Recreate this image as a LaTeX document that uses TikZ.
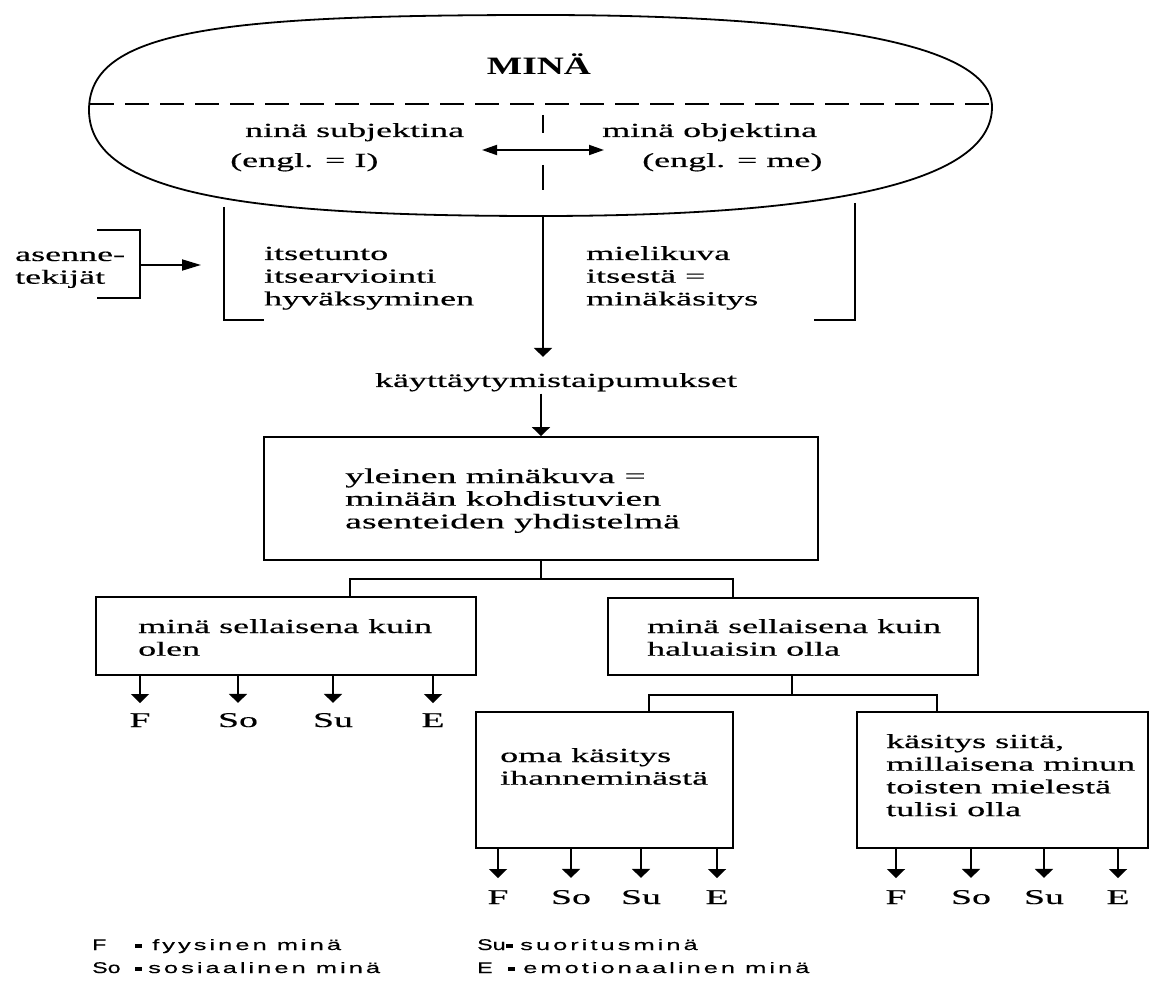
\documentclass[tikz,border=0pt]{standalone}
\usepackage{fontspec}
\setmainfont{Liberation Serif}[FakeStretch=1.8,FakeBold=0.4]
\newfontfamily\legfont{Liberation Sans}[FakeStretch=1.7,LetterSpace=20,FakeBold=0.3]
\newfontfamily\legabfont{Liberation Sans}[FakeStretch=1.5,FakeBold=0.3]
\newfontfamily\minafont{Liberation Serif}[FakeStretch=1.5]
\usetikzlibrary{arrows.meta,calc}
\newcommand{\mlines}[1]{\begin{tabular}[t]{@{}l@{}}#1\end{tabular}}
\begin{document}
\begin{tikzpicture}[x=1pt,y=-1pt,
  ln/.style={line width=1.8pt},
  arr/.style={ln,-{Triangle[width=18pt,length=9pt]}},
  harr/.style={ln,-{Triangle[width=11pt,length=19pt]}},
  darr/.style={ln,{Triangle[width=10pt,length=15pt]}-{Triangle[width=10pt,length=15pt]}},
  txt/.style={inner sep=0pt,font=\fontsize{20}{22.7}\selectfont,anchor=base west},
  box/.style={draw,line width=1.8pt,inner sep=0pt},
  lab/.style={inner sep=0pt,font=\fontsize{21}{24}\selectfont,anchor=base},
  leg/.style={inner sep=0pt,font=\legfont\fontsize{15}{18}\selectfont,anchor=base west},
  legab/.style={inner sep=0pt,font=\legabfont\fontsize{15.5}{18}\selectfont,anchor=base west},
  legdash/.style={fill=black,inner sep=0pt,minimum width=7pt,minimum height=3.4pt,anchor=west}]
\useasboundingbox (0,0) rectangle (1151,981);

% ---- ellipse "MINÄ"
\draw[ln] (89,110) .. controls (89,30) and (220,15) .. (540,15)
  .. controls (800,15) and (992,40) .. (992,107)
  .. controls (992,175) and (860,216) .. (540,216)
  .. controls (250,216) and (89,195) .. (89,110);
\draw[line width=1.6pt,dash pattern=on 24pt off 11pt] (90,104) -- (990,104);
\node[inner sep=0pt,anchor=base,font=\minafont\bfseries\fontsize{25}{28}\selectfont] (mina) at (539,75) {MINÄ};

\node[txt] (subj) at (245,137) {ninä subjektina};
\node[txt] (subjI) at (230,167) {(engl. = I)};
\node[txt] (obj) at (602,137) {minä objektina};
\node[txt] (objme) at (642,167) {(engl. = me)};

\coordinate (da1) at (482,150);
\coordinate (da2) at (604,150);
\draw[darr] (da1) -- (da2);
\coordinate (v1a) at (543,115); \coordinate (v1b) at (543,133);
\coordinate (v2a) at (543,165); \coordinate (v2b) at (543,190);
\draw[line width=1.4pt] (v1a) -- (v1b);
\draw[line width=1.4pt] (v2a) -- (v2b);

% ---- brackets below the ellipse
\coordinate (lbt) at (224,207);
\coordinate (lbb) at (224,320);
\coordinate (lbe) at (264,320);
\draw[ln] (lbt) -- (lbb) -- (lbe);
\coordinate (rbt) at (855,203);
\coordinate (rbb) at (855,320);
\coordinate (rbe) at (814,320);
\draw[ln] (rbt) -- (rbb) -- (rbe);

\node[txt] (itse) at (264,260) {\mlines{itsetunto\\itsearviointi\\hyväksyminen}};
\node[txt] (miel) at (586,260) {\mlines{mielikuva\\itsestä =\\minäkäsitys}};

% ---- asenne-tekijät
\node[txt] (asen) at (15,261) {\mlines{asenne-\\tekijät}};
\coordinate (ab1) at (97,230); \coordinate (ab2) at (140,230);
\coordinate (ab3) at (140,298); \coordinate (ab4) at (97,298);
\draw[ln] (ab1) -- (ab2) -- (ab3) -- (ab4);
\coordinate (aa1) at (140,265); \coordinate (aa2) at (201,265);
\draw[harr] (aa1) -- (aa2);

% ---- käyttäytymistaipumukset
\node[txt,anchor=base] (kt) at (556,387) {käyttäytymistaipumukset};
\coordinate (cbt) at (543,216);
\draw[arr,shorten >=16pt] (cbt) -- (cbt |- kt.north);

% ---- boxes
\node[box,minimum width=554pt,minimum height=123pt] (b1) at (541,498.5) {};
\node[box,minimum width=380pt,minimum height=78pt] (b2) at (286,636) {};
\node[box,minimum width=370pt,minimum height=77pt] (b3) at (793,636.5) {};
\node[box,minimum width=257pt,minimum height=136pt] (b4) at (604.5,780) {};
\node[box,minimum width=291pt,minimum height=136pt] (b5) at (1002.5,780) {};

\draw[arr,shorten <=2pt] (b1.north |- kt.south) -- (b1.north);

\node[txt,font=\fontsize{21}{22.7}\selectfont] (t1) at (345,483) {\mlines{yleinen minäkuva =\\minään kohdistuvien\\asenteiden yhdistelmä}};
\node[txt] (t2) at (138,633) {\mlines{minä sellaisena kuin\\olen}};
\node[txt] (t3) at (647,633) {\mlines{minä sellaisena kuin\\haluaisin olla}};
\node[txt] (t4) at (500,762) {\mlines{oma käsitys\\ihanneminästä}};
\node[txt] (t5) at (886,748) {\mlines{käsitys siitä,\\millaisena minun\\toisten mielestä\\tulisi olla}};

% ---- tree connectors
\coordinate (x350) at (350,0);
\coordinate (x733) at (733,0);
\coordinate (x792) at (792,0);
\draw[ln] (b1.south) -- ++(0,18) -| (b2.north -| x350);
\draw[ln] (b1.south) ++(0,18) -| (b3.north -| x733);
\coordinate (x649) at (649,0);
\coordinate (x937) at (937,0);
\draw[ln] (b3.south -| x792) -- ++(0,19) -| (b4.north -| x649);
\draw[ln] (b3.south -| x792) ++(0,19) -| (b5.north -| x937);

% ---- F So Su E labels
\node[lab] (f2) at (140,727) {F};
\node[lab] (so2) at (238,727) {So};
\node[lab] (su2) at (333,727) {Su};
\node[lab] (e2) at (433,727) {E};
\foreach \n in {f2,so2,su2,e2} \draw[arr,shorten >=10pt] (b2.south -| \n.north) -- (\n.north);

\node[lab] (f4) at (498,904) {F};
\node[lab] (so4) at (571,904) {So};
\node[lab] (su4) at (641,904) {Su};
\node[lab] (e4) at (717,904) {E};
\foreach \n in {f4,so4,su4,e4} \draw[arr,shorten >=12pt] (b4.south -| \n.north) -- (\n.north);

\node[lab] (f5) at (896,904) {F};
\node[lab] (so5) at (971,904) {So};
\node[lab] (su5) at (1044,904) {Su};
\node[lab] (e5) at (1118,904) {E};
\foreach \n in {f5,so5,su5,e5} \draw[arr,shorten >=12pt] (b5.south -| \n.north) -- (\n.north);

% ---- legend
\node[legab] (lgF) at (92,950) {F};
\node[legdash] (dF) at (135,946) {};
\node[leg] (lgFt) at (152,950) {fyysinen minä};
\node[legab] (lgSo) at (92,973) {So};
\node[legdash] (dSo) at (135,969) {};
\node[leg] (lgSot) at (148,973) {sosiaalinen minä};
\node[legab] (lgSu) at (477,950) {Su};
\node[legdash] (dSu) at (506,946) {};
\node[leg] (lgSut) at (520,950) {suoritusminä};
\node[legab] (lgE) at (477,973) {E};
\node[legdash] (dE) at (508,969) {};
\node[leg] (lgEt) at (523,973) {emotionaalinen minä};
\end{tikzpicture}
\end{document}
